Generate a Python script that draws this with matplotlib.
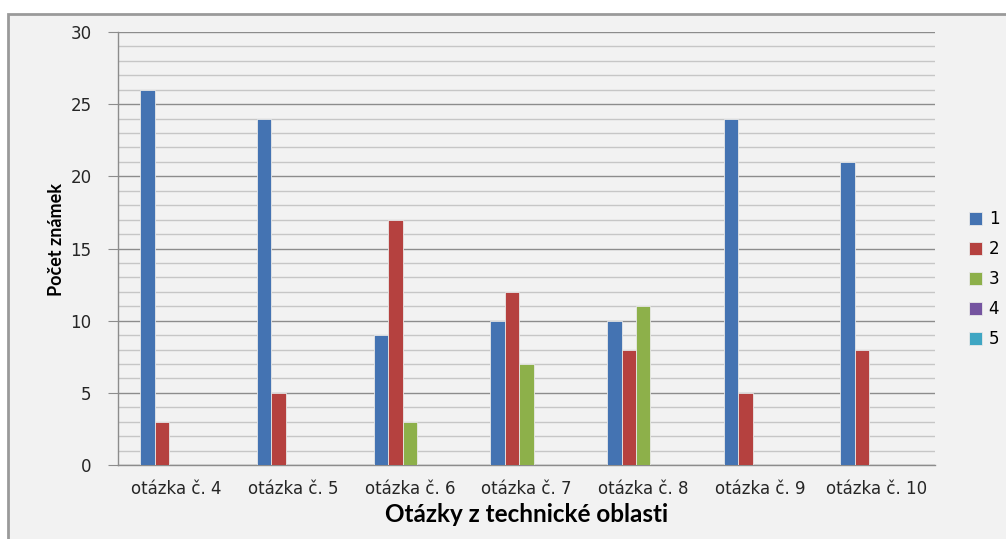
#!/usr/bin/env python3
import numpy as np
import matplotlib

matplotlib.use('Agg')
import matplotlib.pyplot as plt
from matplotlib.patches import Rectangle
from matplotlib.ticker import MultipleLocator

plt.rcParams['font.family'] = ['DejaVu Sans']

# data
categories = ["otázka č. 4", "otázka č. 5", "otázka č. 6", "otázka č. 7",
              "otázka č. 8", "otázka č. 9", "otázka č. 10"]
grade_1 = [26, 24, 9, 10, 10, 24, 21]
grade_2 = [3, 5, 17, 12, 8, 5, 8]
grade_3 = [0, 0, 3, 7, 11, 0, 0]
grade_4 = [0, 0, 0, 0, 0, 0, 0]
grade_5 = [0, 0, 0, 0, 0, 0, 0]
series_labels = ["1", "2", "3", "4", "5"]
colors = ["#4473b2", "#b5413f", "#8db04a", "#7554a0", "#3fa6c3"]

fig = plt.figure(figsize=(10.06, 5.39), dpi=100, facecolor="white")
# chart area background with gray frame
fig.patches.append(Rectangle((8 / 1006, -0.05), 1.1, 1 - 14 / 539 + 0.05,
                             transform=fig.transFigure, facecolor="#f2f2f2",
                             edgecolor="#9a9a9a", linewidth=2, zorder=-1))

ax = fig.add_axes([118 / 1006, 1 - 465 / 539, (935 - 118) / 1006, (465 - 32) / 539])
ax.set_facecolor("#f2f2f2")

x = np.arange(len(categories))
width = 0.124
all_series = [grade_1, grade_2, grade_3, grade_4, grade_5]
for i, vals in enumerate(all_series):
    ax.bar(x + (i - 2) * width, vals, width, color=colors[i], label=series_labels[i],
           edgecolor="#e8e8e8", linewidth=0.6, zorder=3)

ax.set_xlim(-0.5, len(categories) - 0.5)
ax.set_ylim(0, 30)
ax.yaxis.set_major_locator(MultipleLocator(5))
ax.yaxis.set_minor_locator(MultipleLocator(1))
ax.grid(which="major", axis="y", color="#8c8c8c", linewidth=1.0, zorder=1)
ax.grid(which="minor", axis="y", color="#c6c6c6", linewidth=1.0, zorder=1)
ax.set_axisbelow(True)

for s in ["top", "right"]:
    ax.spines[s].set_visible(False)
for s in ["left", "bottom"]:
    ax.spines[s].set_color("#8c8c8c")
    ax.spines[s].set_linewidth(1.0)

ax.set_xticks(x)
ax.set_xticklabels(categories, fontsize=12, color="#262626")
ax.tick_params(axis="x", length=0, pad=11)
ax.tick_params(axis="y", which="major", length=7, color="#8c8c8c", labelsize=12,
               labelcolor="#262626", pad=12)
ax.tick_params(axis="y", which="minor", length=0)

fig.text(57 / 1006, 1 - 240 / 539, "Počet známek", rotation=90, ha="center", va="center",
         fontsize=13, fontweight="bold", family=["Lato", "DejaVu Sans"])
fig.text(527 / 1006, 1 - 515 / 539, "Otázky z technické oblasti", ha="center", va="center",
         fontsize=17.5, fontweight="bold", family=["Lato", "DejaVu Sans"])

fig.legend(loc="center left", bbox_to_anchor=(962 / 1006, 1 - 279 / 539), frameon=False,
           fontsize=12, handlelength=0.8, handleheight=0.8, handletextpad=0.4,
           labelspacing=0.72, borderaxespad=0)

plt.savefig("out.png", dpi=100, facecolor=fig.get_facecolor())
plt.close()
